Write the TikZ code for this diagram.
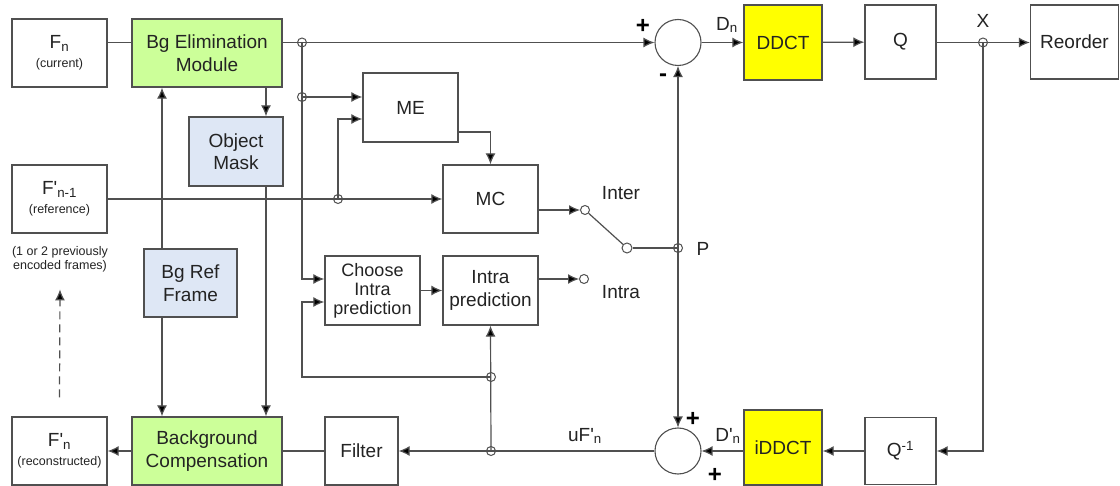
\documentclass[tikz,border=0pt]{standalone}
\usepackage{fontspec}
\setmainfont{Liberation Sans}
\usetikzlibrary{arrows.meta}
\definecolor{bggreen}{RGB}{204,255,153}
\definecolor{maskblue}{RGB}{222,231,245}
\definecolor{ddctyellow}{RGB}{255,255,0}
\definecolor{wire}{RGB}{80,80,80}
\definecolor{ink}{RGB}{35,35,35}
\tikzset{
  blk/.style={draw=wire, line width=1.3pt, fill=white, text=ink, align=center,
    inner sep=1pt, font=\fontsize{19}{22.5}\selectfont},
  sumnode/.style={circle, draw=wire, line width=1.1pt, fill=white, minimum size=46pt, inner sep=0pt},
  jdot/.style={circle, draw=wire, line width=1pt, minimum size=9pt, inner sep=0pt},
  contact/.style={circle, draw=wire, line width=1pt, fill=white, minimum size=9pt, inner sep=0pt},
  wirelbl/.style={text=ink, inner sep=0pt, font=\fontsize{19}{22}\selectfont},
  signlbl/.style={text=black, inner sep=0pt, font=\fontsize{24}{24}\selectfont\bfseries},
  flow/.style={-{Latex[length=11pt,width=10pt,fill=black]}},
}
\newcommand{\smalltxt}{\fontsize{12.5}{14.5}\selectfont}
\newcommand{\apos}{\textquotesingle}
\begin{document}
\begin{tikzpicture}[x=1pt, y=-1pt, line width=1.2pt, draw=wire]
  \fill[white] (0,0) rectangle (1120,486);
  \useasboundingbox (0,0) rectangle (1120,486);

  % frames on the left
  \node[blk, minimum width=95pt, minimum height=68pt] (fn) at (59.5,53)
    {F\textsubscript{n}\\[-3pt]{\smalltxt (current)}};
  \node[blk, minimum width=95pt, minimum height=68pt] (fprev) at (59.5,199)
    {F\apos\textsubscript{n-1}\\[-3pt]{\smalltxt (reference)}};
  \node[text=ink, align=center, font=\fontsize{12.5}{14}\selectfont, inner sep=0pt] (note) at (60,259)
    {(1 or 2 previously\\encoded frames)};
  \node[blk, minimum width=95pt, minimum height=68pt] (frec) at (59.5,451)
    {F\apos\textsubscript{n}\\[-3pt]{\smalltxt (reconstructed)}};

  % background modules
  \node[blk, fill=bggreen, minimum width=150pt, minimum height=68pt] (bgelim) at (207,53) {Bg Elimination\\Module};
  \node[blk, fill=maskblue, minimum width=94pt, minimum height=69pt] (objmask) at (236,151.5) {Object\\Mask};
  \node[blk, fill=maskblue, minimum width=93pt, minimum height=68pt] (bgref) at (190.5,283) {Bg Ref\\Frame};
  \node[blk, fill=bggreen, minimum width=150pt, minimum height=68pt] (bgcomp) at (207,451) {Background\\Compensation};
  \node[blk, minimum width=73pt, minimum height=68pt] (filter) at (361.5,451) {Filter};

  % prediction
  \node[blk, minimum width=95pt, minimum height=69pt] (me) at (410.5,107.5) {ME};
  \node[blk, minimum width=95pt, minimum height=68pt] (mc) at (490.5,199) {MC};
  \node[blk, minimum width=95pt, minimum height=69pt, font=\fontsize{18}{19}\selectfont] (choose) at (372.5,290.5) {Choose\\Intra\\prediction};
  \node[blk, minimum width=95pt, minimum height=69pt] (intra) at (490.5,290.5) {Intra\\prediction};

  % transform chain
  \node[sumnode] (sub) at (678,42.5) {};
  \node[blk, fill=ddctyellow, minimum width=78pt, minimum height=75pt] (ddct) at (783,42.5) {DDCT};
  \node[blk, minimum width=71pt, minimum height=74pt] (q) at (900.5,42) {Q};
  \node[blk, minimum width=88pt, minimum height=74pt] (reorder) at (1074.5,42) {Reorder};
  \node[sumnode] (add) at (678,451) {};
  \node[blk, fill=ddctyellow, minimum width=78pt, minimum height=75pt] (iddct) at (783,447.5) {iDDCT};
  \node[blk, minimum width=71pt, minimum height=67pt] (qinv) at (900.5,451) {Q\textsuperscript{-1}};

  % junctions and switch
  \node[jdot] (j1) at (302,42.5) {};
  \node[jdot] (j2) at (302,97) {};
  \node[jdot] (j3) at (338,199) {};
  \node[jdot] (jx) at (983,42.5) {};
  \node[jdot] (j4) at (491,451) {};
  \node[jdot] (j5) at (491,377) {};
  \node[jdot] (p) at (678,248) {};
  \node[contact] (cinter) at (585,210) {};
  \node[contact] (cintra) at (584,279) {};
  \node[contact, minimum size=10pt] (pole) at (627,248) {};

  % top path
  \draw (fn.east |- sub) -- (bgelim.west |- sub);
  \draw[flow] (bgelim.east |- sub) -- (sub);
  \draw[flow] (sub) -- (ddct);
  \draw[flow] (ddct) -- (q);
  \draw[flow] (q.east |- sub) -- (reorder.west |- sub);

  % feedback path
  \draw[flow] (jx.center) |- (qinv.east);
  \draw[flow] (qinv) -- (iddct.east |- qinv);
  \draw[flow] (iddct.west |- add) -- (add);
  \draw[flow] (add) -- (filter);
  \draw (filter) -- (bgcomp);
  \draw[flow] (bgcomp) -- (frec);
  \draw[flow] (j4.center) -- (intra.south);
  \draw[flow] (j5.center) -| (j1.center |- j5.center) |- ([yshift=-11.5pt]choose.west);

  % background modules
  \draw[flow] ([xshift=-28.5pt]bgref.north) -- ([xshift=-28.5pt]bgref.north |- bgelim.south);
  \draw[flow] ([xshift=-28.5pt]bgref.south) -- ([xshift=-28.5pt]bgref.south |- bgcomp.north);
  \draw[flow] ([xshift=59pt]bgelim.south) -- ([xshift=30pt]objmask.north);
  \draw[flow] ([xshift=30pt]objmask.south) -- ([xshift=30pt]objmask.south |- bgcomp.north);
  \draw[flow, dash pattern=on 8pt off 5pt] ([yshift=19pt]frec.north) -- ([yshift=-17pt]note.south);

  % prediction
  \draw[flow] (j1.center) |- ([yshift=11.5pt]choose.west);
  \draw[flow] (j2.center) -- ([yshift=10.5pt]me.west);
  \draw[flow] (fprev) -- (mc);
  \draw[flow] (j3.center) |- ([yshift=-11.5pt]me.west);
  \draw[flow] ([yshift=-24.5pt]me.east) -| (mc.north);
  \draw[flow] (choose) -- (intra);
  \draw[flow] ([yshift=-11pt]mc.east) -- (cinter);
  \draw[flow] ([yshift=11.5pt]intra.east) -- (cintra);
  \draw (cinter) -- (pole);
  \draw (pole) -- (p.center);
  \draw[flow] (p.center) -- (sub);
  \draw[flow] (p.center) -- (add);

  % labels
  \node[wirelbl] (lbldn) at (727,25) {D\textsubscript{n}};
  \node[wirelbl] (lblx) at (983,21) {X};
  \node[wirelbl] (lblp) at (703,249) {P};
  \node[wirelbl] (lblinter) at (621,193) {Inter};
  \node[wirelbl] (lblintra) at (621,292) {Intra};
  \node[wirelbl] (lbluf) at (585,436) {uF\apos\textsubscript{n}};
  \node[wirelbl] (lbldn2) at (728,436) {D\apos\textsubscript{n}};
  \node[signlbl] (plus1) at (643,26) {+};
  \node[signlbl] (minus1) at (663,78) {-};
  \node[signlbl] (plus2) at (693,419) {+};
  \node[signlbl] (plus3) at (715,475) {+};
\end{tikzpicture}
\end{document}
